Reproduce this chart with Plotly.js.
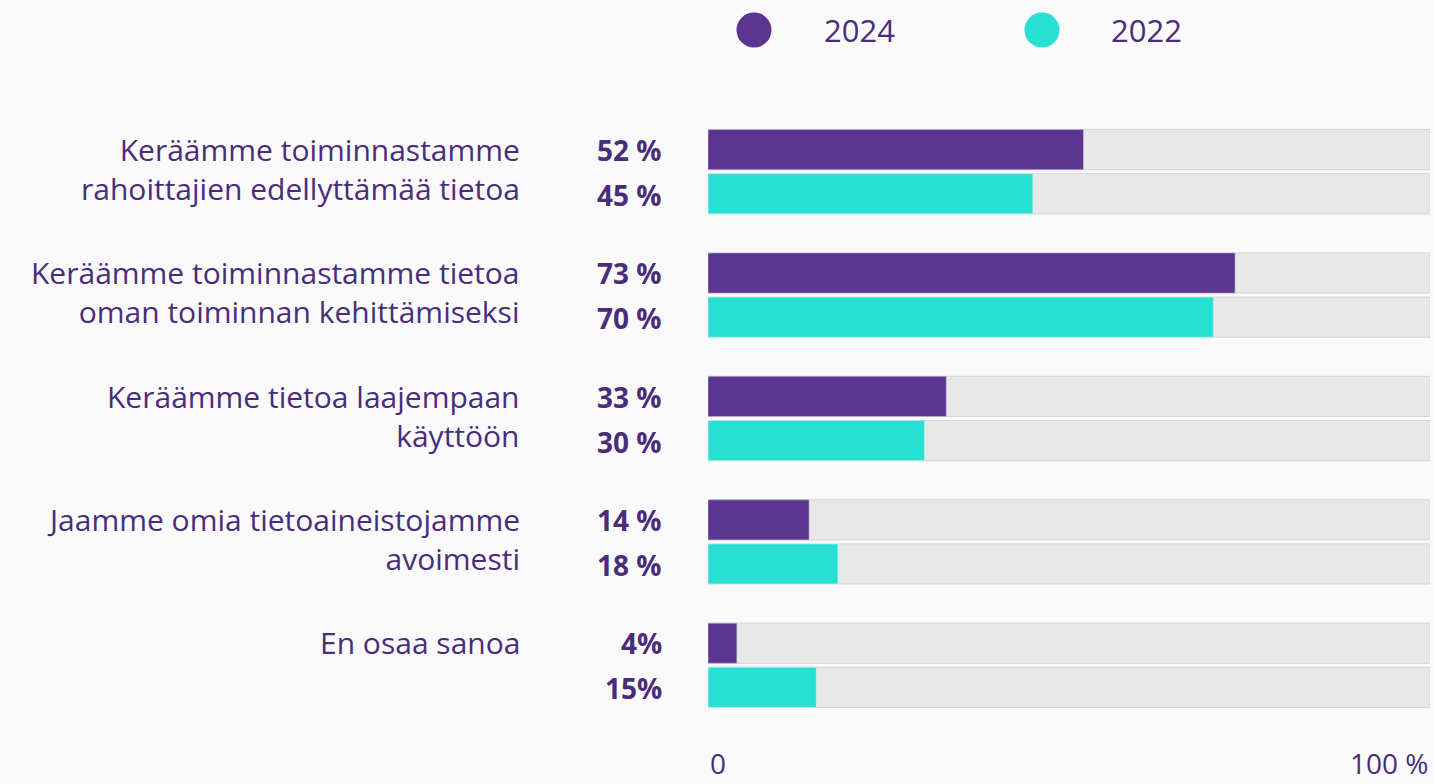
<!DOCTYPE html>
<html>
<head>
<meta charset="utf-8">
<script src="https://cdn.plot.ly/plotly-3.0.1.min.js"></script>
<style>
html,body{margin:0;padding:0;background:#fafafa;}
#chart{width:1434px;height:784px;}
</style>
</head>
<body>
<div id="chart"></div>
<script>
const categories = [
  "Keräämme toiminnastamme<br>rahoittajien edellyttämää tietoa",
  "Keräämme toiminnastamme tietoa<br>oman toiminnan kehittämiseksi",
  "Keräämme tietoa laajempaan<br>käyttöön",
  "Jaamme omia tietoaineistojamme<br>avoimesti",
  "En osaa sanoa"
];
const values2024 = [52, 73, 33, 14, 4];
const values2022 = [45, 70, 30, 18, 15];
const labels2024 = ["52 %", "73 %", "33 %", "14 %", "4%"];
const labels2022 = ["45 %", "70 %", "30 %", "18 %", "15%"];
const seriesNames = ["2024", "2022"];
const axisLabels = ["0", "100 %"];
const fullScale = [100, 100, 100, 100, 100];

const PURPLE = "#5b3590";
const TEAL = "#27dfd3";
const TEXT = "#4a2d7a";
const TRACK = "#e8e8e8";
const FONT = "Open Sans, Noto Sans, sans-serif";

function track(group) {
  return {
    type: "bar", orientation: "h", y: categories, x: fullScale,
    offsetgroup: group, marker: {color: TRACK, line: {color: "#d4d4d4", width: 1}},
    hoverinfo: "skip", showlegend: false
  };
}
const traces = [
  track("a"), track("b"),
  {type: "bar", orientation: "h", y: categories, x: values2024, name: seriesNames[0],
   offsetgroup: "a", marker: {color: PURPLE, line: {color: "#c9bfdc", width: 0.6}}, showlegend: false},
  {type: "bar", orientation: "h", y: categories, x: values2022, name: seriesNames[1],
   offsetgroup: "b", marker: {color: TEAL, line: {color: "#d8f5f2", width: 0.6}}, showlegend: false}
];

const annotations = [];
categories.forEach((c, i) => {
  annotations.push({x: 0, y: c, xref: "x", yref: "y", xanchor: "right", yanchor: "top",
    xshift: -186, yshift: 45, align: "right", showarrow: false, text: c,
    font: {family: FONT, size: 30, color: TEXT}});
  annotations.push({x: 0, y: c, xref: "x", yref: "y", xanchor: "right", yanchor: "middle",
    xshift: -44, yshift: 22, showarrow: false, text: "<b>" + labels2024[i] + "</b>",
    font: {family: FONT, size: 28, color: TEXT}});
  annotations.push({x: 0, y: c, xref: "x", yref: "y", xanchor: "right", yanchor: "middle",
    xshift: -44, yshift: -23, showarrow: false, text: "<b>" + labels2022[i] + "</b>",
    font: {family: FONT, size: 28, color: TEXT}});
});
annotations.push({x: 0, y: 0, xref: "x", yref: "paper", xanchor: "left", yanchor: "middle",
  yshift: -36, xshift: 0, showarrow: false, text: axisLabels[0], font: {family: FONT, size: 28, color: TEXT}});
annotations.push({x: 100, y: 0, xref: "x", yref: "paper", xanchor: "right", yanchor: "middle",
  yshift: -36, xshift: 0, showarrow: false, text: axisLabels[1], font: {family: FONT, size: 28, color: TEXT}});
// legend
const legendX = [(822 - 708) / 722, (1109 - 708) / 722];
const dotX = [(754 - 708) / 722, (1042 - 708) / 722];
const legendY = (727 - 30) / 617;
const shapes = [];
[PURPLE, TEAL].forEach((col, i) => {
  shapes.push({type: "circle", xref: "paper", yref: "paper", xsizemode: "pixel", ysizemode: "pixel",
    xanchor: dotX[i], yanchor: legendY, x0: -17.5, x1: 17.5, y0: -17.5, y1: 17.5,
    fillcolor: col, line: {width: 0}});
  annotations.push({x: legendX[i], y: legendY, xref: "paper", yref: "paper", xanchor: "left", yanchor: "middle",
    showarrow: false, text: seriesNames[i], font: {family: FONT, size: 31, color: TEXT}});
});

const layout = {
  width: 1434, height: 784,
  margin: {l: 708, r: 4, t: 110, b: 57},
  paper_bgcolor: "#fafafa", plot_bgcolor: "#fafafa",
  barmode: "group", bargap: 0.285, bargroupgap: 0.09,
  xaxis: {range: [0, 100], showgrid: false, zeroline: false, showticklabels: false, fixedrange: true},
  yaxis: {type: "category", range: [4.5, -0.5], showgrid: false, zeroline: false, showticklabels: false, fixedrange: true},
  showlegend: false,
  annotations: annotations,
  shapes: shapes
};
Plotly.newPlot("chart", traces, layout, {displayModeBar: false, staticPlot: true});
</script>
</body>
</html>
